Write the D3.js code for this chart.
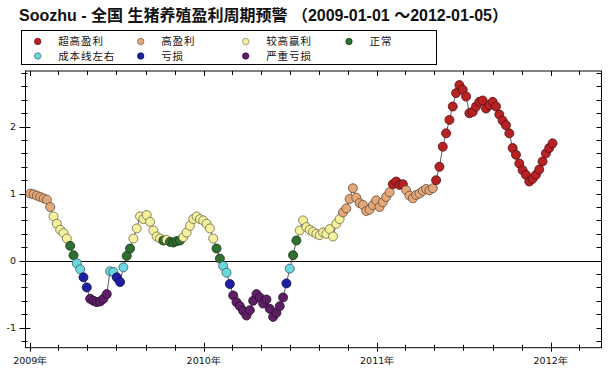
<!DOCTYPE html>
<html>
<head>
<meta charset="utf-8">
<script src="https://cdn.jsdelivr.net/npm/d3@7"></script>
<style>
body { margin: 0; background: #fff; }
svg { display: block; }
</style>
</head>
<body>
<div id="chart"></div>
<script>
/* weekly readings, one per Thursday */
var firstWeek = "2009-01-01"
var lastWeek = "2012-01-05"
var weekValues = [
  1.00, 0.99, 0.97, 0.95, 0.93, 0.91, 0.80, 0.66, 0.55, 0.46,
  0.41, 0.33, 0.22, 0.08, -0.04, -0.13, -0.25, -0.40, -0.57, -0.60,
  -0.62, -0.61, -0.57, -0.50, -0.16, -0.17, -0.25, -0.32, -0.10, 0.07,
  0.18, 0.33, 0.48, 0.66, 0.62, 0.68, 0.58, 0.45, 0.36, 0.33,
  0.30, 0.31, 0.28, 0.27, 0.29, 0.30, 0.35, 0.42, 0.52, 0.62,
  0.66, 0.62, 0.60, 0.55, 0.48, 0.33, 0.18, 0.03, -0.08, -0.18,
  -0.35, -0.52, -0.62, -0.68, -0.75, -0.82, -0.74, -0.60, -0.50, -0.55,
  -0.64, -0.58, -0.72, -0.84, -0.78, -0.68, -0.55, -0.34, -0.12, 0.08,
  0.30, 0.45, 0.60, 0.50, 0.46, 0.43, 0.40, 0.38, 0.42, 0.40,
  0.47, 0.36, 0.55, 0.62, 0.72, 0.78, 0.92, 1.08, 0.94, 0.86,
  0.83, 0.74, 0.76, 0.83, 0.90, 0.80, 0.87, 0.95, 1.02, 1.14,
  1.18, 1.13, 1.14, 1.05, 0.97, 0.93, 0.98, 1.00, 1.04, 1.07,
  1.05, 1.08, 1.20, 1.40, 1.70, 1.90, 2.10, 2.30, 2.50, 2.62,
  2.55, 2.45, 2.20, 2.22, 2.30, 2.37, 2.39, 2.27, 2.32, 2.37,
  2.30, 2.18, 2.09, 2.02, 1.90, 1.68, 1.58, 1.45, 1.35, 1.28,
  1.18, 1.22, 1.28, 1.36, 1.48, 1.60, 1.68, 1.75
]

/* warning levels, highest first */
var levelNames = ["超高盈利", "高盈利", "较高赢利", "正常", "成本线左右", "亏损", "严重亏损"]
var levelColors = ["#b82224", "#e2a87a", "#f4f09e", "#2f6f2f", "#6ad6de", "#1f1fa6", "#5e1e66"]
var levelFloors = [1.1, 0.7, 0.3, 0, -0.2, -0.45, -Infinity]

var yTickLabels = [-1, 0, 1, 2]
var titleText = "Soozhu - 全国 生猪养殖盈利周期预警 （2009-01-01 ～2012-01-05）"

/* layout */
var W = 609, H = 368
var plot = { left: 25.5, right: 601.5, top: 71, bottom: 347.7 }
var parseDay = d3.timeParse("%Y-%m-%d")

var weeks = d3.timeDay.range(parseDay(firstWeek), d3.timeDay.offset(parseDay(lastWeek), 1), 7)
var points = weeks.map(function(d, i) { return { date: d, value: weekValues[i] } })
  .filter(function(p) { return p.value !== undefined })

function levelOf(v) {
  for (var i = 0; i < levelFloors.length; i++) {
    if (v > levelFloors[i]) return i
  }
  return levelFloors.length - 1
}

var x = d3.scaleTime()
  .domain([parseDay("2008-12-22"), parseDay("2012-04-17")])
  .range([plot.left, plot.right])
var y = d3.scaleLinear()
  .domain([-1.3, 2.83])
  .range([plot.bottom, plot.top])

var svg = d3.select("#chart").append("svg")
  .attr("width", W)
  .attr("height", H)

svg.append("rect").attr("width", W).attr("height", H).attr("fill", "#fff")

/* title */
svg.append("text")
  .attr("x", 19)
  .attr("y", 21)
  .style("font-family", "'Liberation Sans', 'Noto Sans CJK SC', sans-serif")
  .style("font-weight", "bold")
  .style("font-size", "16px")
  .attr("fill", "#111")
  .text(titleText)

/* legend */
var legend = svg.append("g").attr("class", "legend")
legend.append("rect")
  .attr("x", 21.5).attr("y", 30.5)
  .attr("width", 415).attr("height", 34)
  .attr("fill", "#fff").attr("stroke", "#000").attr("stroke-width", 1)
var legendCols = [37.7, 140.7, 245.7, 349]
levelNames.forEach(function(name, i) {
  var col = i < 4 ? i : i - 4
  var row = i < 4 ? 0 : 1
  var cy = 41.5 + row * 14.5
  legend.append("circle")
    .attr("cx", legendCols[col]).attr("cy", cy).attr("r", 3.2)
    .attr("fill", levelColors[i])
    .attr("stroke", d3.color(levelColors[i]).darker(1.5))
    .attr("stroke-width", 0.8)
  legend.append("text")
    .attr("x", legendCols[col] + 20.5).attr("y", cy + 3.8)
    .style("font-family", "'Noto Sans CJK SC', sans-serif")
    .style("font-size", "10.5px")
    .style("letter-spacing", "0.9px")
    .attr("fill", "#111")
    .text(name)
})

/* frame and ticks */
var axes = svg.append("g").attr("stroke", "#000").attr("stroke-width", 1)
axes.append("rect")
  .attr("x", plot.left).attr("y", plot.top)
  .attr("width", plot.right - plot.left).attr("height", plot.bottom - plot.top)
  .attr("fill", "none")

var monthTicks = x.ticks(d3.timeMonth.every(2))
monthTicks.forEach(function(d) {
  var major = d.getMonth() === 0
  var tx = Math.round(x(d)) + 0.5
  axes.append("line")
    .attr("x1", tx).attr("x2", tx)
    .attr("y1", plot.bottom - (major ? 5 : 3)).attr("y2", plot.bottom + (major ? 4 : 3))
  axes.append("line")
    .attr("x1", tx).attr("x2", tx)
    .attr("y1", plot.top).attr("y2", plot.top + (major ? 5 : 4))
})

var valueTicks = d3.range(-12, 29, 2).map(function(k) { return k / 10 })
valueTicks.forEach(function(v) {
  var major = Math.abs(v - Math.round(v)) < 1e-9
  var ty = Math.round(y(v)) + 0.5
  axes.append("line")
    .attr("x1", plot.left - (major ? 6 : 4)).attr("x2", plot.left + (major ? 5 : 2))
    .attr("y1", ty).attr("y2", ty)
  axes.append("line")
    .attr("x1", plot.right - 5).attr("x2", plot.right)
    .attr("y1", ty).attr("y2", ty)
})

/* tick labels */
var labelFont = "'DejaVu Sans', sans-serif"
svg.append("g").selectAll("text")
  .data(yTickLabels)
  .join("text")
  .attr("x", 16)
  .attr("y", function(d) { return y(d) + 3.5 })
  .attr("text-anchor", "end")
  .style("font-family", labelFont)
  .style("font-size", "9.5px")
  .attr("fill", "#111")
  .text(function(d) { return d })

svg.append("g").selectAll("text")
  .data(monthTicks.filter(function(d) { return d.getMonth() === 0 }))
  .join("text")
  .attr("x", function(d) { return x(d) })
  .attr("y", 364)
  .attr("text-anchor", "middle")
  .style("font-family", labelFont)
  .style("font-size", "9.5px")
  .attr("fill", "#111")
  .text(function(d) { return d.getFullYear() + "年" })

/* zero line */
svg.append("line")
  .attr("x1", plot.left).attr("x2", plot.right)
  .attr("y1", Math.round(y(0)) + 0.5).attr("y2", Math.round(y(0)) + 0.5)
  .attr("stroke", "#000").attr("stroke-width", 1)

/* series */
var lineFn = d3.line()
  .x(function(p) { return x(p.date) })
  .y(function(p) { return y(p.value) })
svg.append("path")
  .attr("d", lineFn(points))
  .attr("fill", "none")
  .attr("stroke", "#333")
  .attr("stroke-width", 0.8)

svg.append("g").selectAll("circle")
  .data(points)
  .join("circle")
  .attr("cx", function(p) { return x(p.date) })
  .attr("cy", function(p) { return y(p.value) })
  .attr("r", 4.5)
  .attr("fill", function(p) { return levelColors[levelOf(p.value)] })
  .attr("stroke", function(p) { return d3.color(levelColors[levelOf(p.value)]).darker(2.3) })
  .attr("stroke-width", 0.8)
</script>
</body>
</html>
